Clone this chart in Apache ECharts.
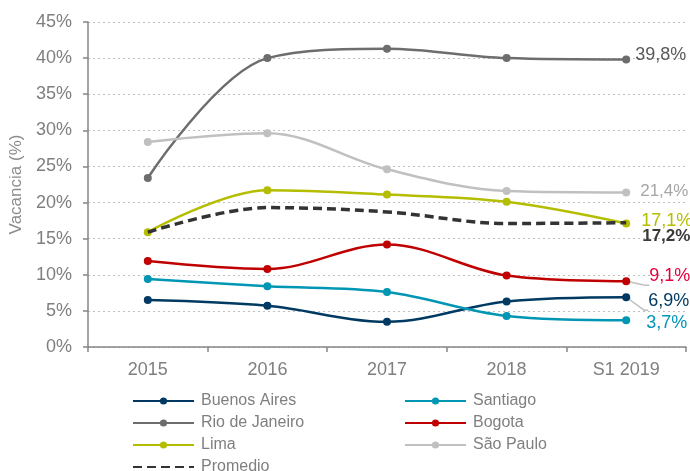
<!DOCTYPE html>
<html><head><meta charset="utf-8">
<script src="https://cdn.jsdelivr.net/npm/echarts@6/dist/echarts.min.js"></script>
<style>html,body{margin:0;padding:0;background:#fff}#c{width:690px;height:471px}</style>
</head><body><div id="c"></div>
<script>
const categories = ['2015','2016','2017','2018','S1 2019'];
const yTicks = [0,5,10,15,20,25,30,35,40,45];
const buenosAires = [6.5,5.7,3.5,6.3,6.9];
const santiago = [9.4,8.4,7.6,4.3,3.7];
const rioDeJaneiro = [23.4,40.0,41.3,40.0,39.8];
const bogota = [11.9,10.8,14.2,9.9,9.1];
const lima = [15.9,21.7,21.1,20.1,17.1];
const saoPaulo = [28.4,29.6,24.6,21.6,21.4];
const promedio = [15.9,19.3,18.7,17.1,17.2];

const F = '"Liberation Sans", Arial, sans-serif';
const fmt = v => String(v).replace('.', ',') + '%';
function mk(name, data, color, labelColor, offset, opts) {
  opts = opts || {};
  const n = data.length;
  const lbl = {position:'right', distance: opts.distance||8, offset: offset,
      color: labelColor, fontFamily: F, fontSize: opts.fs||18, fontWeight: opts.bold?'bold':'normal'};
  const s = {
    name, type: 'line', smooth: 0.35,
    symbol: opts.dashed ? 'none' : 'circle', symbolSize: 8, showSymbol: !opts.dashed,
    itemStyle: {color},
    lineStyle: {color, width: opts.dashed ? 3.5 : 2.5, type: opts.dashed ? [9,5] : 'solid'},
    z: opts.z || 2
  };
  if (opts.dashed) {
    s.data = data;
    s.endLabel = Object.assign({show:true, formatter: p => fmt(p.value)}, lbl);
  } else {
    s.data = data.map((v,i)=> i===n-1 ? {value:v, label:{show:true}} : v);
    s.label = Object.assign({show:false, formatter: p => fmt(p.value)}, lbl);
    s.labelLine = opts.leader ? {show:true, length2:4, lineStyle:{color:'#bfbfbf', width:1.5}} : {show:false};
  }
  return s;
}
const legendCommon = {orient:'vertical', height:120, itemWidth:61, itemHeight:9, itemGap:6,
  textStyle:{color:'#7f7f7f',fontSize:16,fontFamily:F,padding:[0,0,0,2],lineHeight:14}};
const chart = echarts.init(document.getElementById('c'));
chart.setOption({
  animation:false,
  grid:{left:88,right:4,top:22,bottom:124},
  xAxis:{type:'category', data:categories, boundaryGap:true,
    axisLine:{lineStyle:{color:'#868686',width:1.5}},
    axisTick:{show:true,length:5,lineStyle:{color:'#868686',width:1.5}},
    axisLabel:{color:'#7f7f7f',fontSize:18,fontFamily:F,margin:14}},
  yAxis:{type:'value', min:0, max:45, interval:5, name:'Vacancia (%)', nameLocation:'middle', nameGap:56,
    nameTextStyle:{color:'#8c8c8c',fontSize:17,fontFamily:F},
    axisLine:{show:true,lineStyle:{color:'#868686',width:1.5}},
    axisTick:{show:true,length:5,lineStyle:{color:'#868686',width:1.5}},
    splitLine:{lineStyle:{color:'#bfbfbf',type:[2,3],width:1.2}},
    axisLabel:{color:'#7f7f7f',fontSize:18,fontFamily:F,margin:16, formatter: v => yTicks.includes(v) ? v+'%' : ''}},
  legend:[
    Object.assign({data:['Buenos Aires','Rio de Janeiro','Lima',{name:'Promedio', itemStyle:{opacity:0}}], left:127, top:388}, legendCommon),
    Object.assign({data:['Santiago','Bogota','São Paulo'], left:399, top:388}, legendCommon)
  ],
  series:[
    mk('Buenos Aires', buenosAires, '#003a63', '#003a63', [10,4], {leader:true}),
    mk('Santiago', santiago, '#0096b4', '#0096b4', [8,3]),
    mk('Rio de Janeiro', rioDeJaneiro, '#6d6d6d', '#595959', [-3,-5]),
    mk('Bogota', bogota, '#c00000', '#e4003b', [11,-5], {leader:true}),
    mk('Lima', lima, '#b5bd00', '#b5bd00', [3,-2]),
    mk('São Paulo', saoPaulo, '#c0c0c0', '#a6a6a6', [2,-1], {fs:17}),
    mk('Promedio', promedio, '#333333', '#3a3a3a', [8,14], {dashed:true, bold:true, fs:17, z:3})
  ]
});
</script></body></html>
